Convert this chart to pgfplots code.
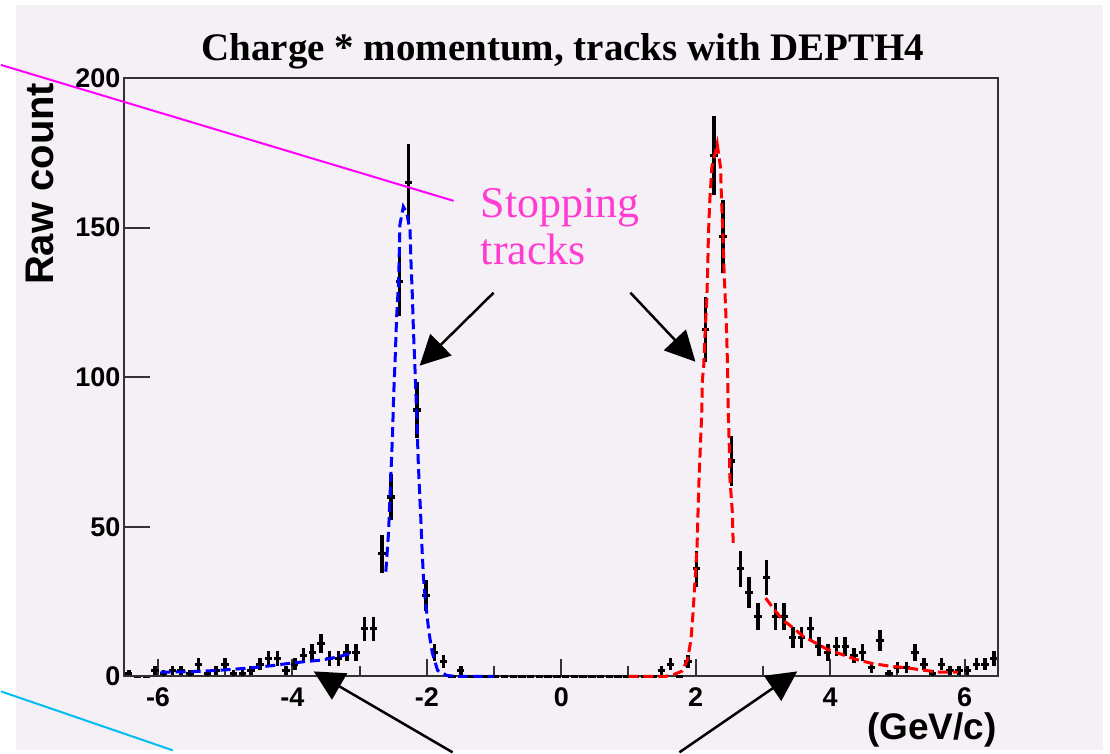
\documentclass[border=0pt]{standalone}
\usepackage{pgfplots}
\pgfplotsset{compat=1.18}
\usepackage{pgfplotstable}
\usepackage{fontspec}
\usetikzlibrary{arrows.meta}
\setmainfont{Liberation Serif}
\newfontfamily\helv{Liberation Sans}

\definecolor{bgpink}{RGB}{245,240,245}
\definecolor{annmag}{RGB}{255,0,255}
\definecolor{txtmag}{RGB}{255,60,210}
\definecolor{anncyan}{RGB}{0,190,240}
\definecolor{framegray}{RGB}{50,50,50}

% charge*momentum histogram: bin centre, raw count, statistical error
\pgfplotstableread{
x       y    ey
-6.435  1    1
-6.305  0    0
-6.175  0    0
-6.045  2    1.41
-5.915  1    1
-5.785  2    1.41
-5.655  2    1.41
-5.525  1    1
-5.395  4    2
-5.265  1    1
-5.135  2    1.41
-5.005  4    2
-4.875  1    1
-4.745  1    1
-4.615  2    1.41
-4.485  4    2
-4.355  6    2.45
-4.225  6    2.45
-4.095  2    1.41
-3.965  4    2
-3.835  7    2.65
-3.705  8    2.83
-3.575  11   3.32
-3.445  6    2.45
-3.315  6    2.45
-3.185  8    2.83
-3.055  8    2.83
-2.925  16   4
-2.795  16   4
-2.665  41   6.4
-2.535  60   7.75
-2.405  132  11.49
-2.275  165  12.85
-2.145  89   9.43
-2.015  27   5.2
-1.885  8    2.83
-1.755  5    2.24
-1.625  0    0
-1.495  2    1.41
-1.365  0    0
-1.235  0    0
-1.105  0    0
-0.975  0    0
-0.845  0    0
-0.715  0    0
-0.585  0    0
-0.455  0    0
-0.325  0    0
-0.195  0    0
-0.065  0    0
0.065   0    0
0.195   0    0
0.325   0    0
0.455   0    0
0.585   0    0
0.715   0    0
0.845   0    0
0.975   0    0
1.105   0    0
1.235   0    0
1.365   0    0
1.495   2    1.41
1.625   4    2
1.755   0    0
1.885   5    2.24
2.015   36   6
2.145   116  10.77
2.275   174  13.19
2.405   147  12.12
2.535   72   8.49
2.665   36   6
2.795   28   5.29
2.925   20   4.47
3.055   33   5.74
3.185   20   4.47
3.315   20   4.47
3.445   13   3.61
3.575   13   3.61
3.705   16   4
3.835   10   3.16
3.965   8    2.83
4.095   10   3.16
4.225   10   3.16
4.355   7    2.65
4.485   8    2.83
4.615   3    1.73
4.745   12   3.46
4.875   1    1
5.005   3    1.73
5.135   3    1.73
5.265   8    2.83
5.395   4    2
5.525   1    1
5.655   4    2
5.785   2    1.41
5.915   2    1.41
6.045   2    1.41
6.175   4    2
6.305   4    2
6.435   6    2.45
}\histdata

\begin{document}
\begin{tikzpicture}
\begin{scope}[x=0.5pt,y=-0.5pt]
  \useasboundingbox (0,0) rectangle (1110,751);
  \fill[bgpink] (15,5) rectangle (1103,751);
\end{scope}

% main axis: data, fits and x ticks
\begin{axis}[
  at={(61.75pt,-338.5pt)}, anchor=south west,
  scale only axis, width=437.25pt, height=299.5pt,
  xmin=-6.5, xmax=6.5, ymin=0, ymax=200,
  axis line style={framegray, line width=1pt},
  xtick={-6,-4,-2,0,2,4,6},
  xticklabels={-6,-4,-2,0,2,4,6},
  minor xtick={-5,-3,-1,1,3,5},
  ytick=\empty,
  xtick pos=bottom,
  tick align=inside,
  major tick length=8.5pt, minor tick length=5pt,
  every tick/.style={framegray, line width=1pt},
  xticklabel style={font=\helv\bfseries\fontsize{13.5}{13.5}\selectfont, anchor=north, inner sep=0pt, yshift=-5.5pt},
  clip=false,
]
\addplot[draw=none, mark=none,
  error bars/.cd, x dir=both, x fixed=0.055, y dir=both, y explicit,
  error bar style={draw=black, line width=1.75pt, solid}, error mark=none]
  table[x=x, y=y, y error=ey] {\histdata};

% fit to the negative-charge peak
\addplot[blue, line width=1.5pt, dash pattern=on 5pt off 2.5pt] coordinates {
(-2.61,35) (-2.57,48) (-2.55,59) (-2.53,70) (-2.51,81) (-2.495,93) (-2.47,107)
(-2.45,120) (-2.42,132) (-2.40,151) (-2.35,157) (-2.30,155) (-2.25,149)
(-2.235,138) (-2.215,127) (-2.20,116) (-2.18,105) (-2.16,93) (-2.145,84)
(-2.13,73) (-2.115,65) (-2.09,53) (-2.07,42) (-2.05,33) (-2.02,25)
(-1.97,15) (-1.92,8) (-1.84,2) (-1.70,0.3) (-1.55,0) (-1.0,0)
};
% low-momentum tail, negative side
\addplot[blue, line width=1.5pt, dash pattern=on 5pt off 2.5pt] coordinates {
(-5.96,1.4) (-5.66,1.5) (-5.39,1.7) (-5.12,2.0) (-4.87,2.4) (-4.60,2.9)
(-4.30,3.6) (-4.07,4.3) (-3.83,4.9) (-3.55,5.5) (-3.31,6.6) (-3.08,8.0)
};
% fit to the positive-charge peak
\addplot[red, line width=1.5pt, dash pattern=on 5pt off 2.5pt] coordinates {
(1.0,0) (1.55,0) (1.68,0.7) (1.80,1.8) (1.88,5.7) (1.93,12.3) (1.96,21)
(1.99,32) (2.02,43) (2.035,55) (2.05,66) (2.07,77) (2.09,88) (2.10,99)
(2.12,104) (2.14,115) (2.165,126) (2.18,137) (2.19,148) (2.21,159)
(2.24,170) (2.32,178) (2.37,170) (2.385,159) (2.405,148) (2.42,137)
(2.44,126) (2.46,115) (2.475,103) (2.485,88) (2.50,77) (2.51,66)
(2.545,55) (2.56,43)
};
% high-momentum tail, positive side
\addplot[red, line width=1.5pt, dash pattern=on 5pt off 2.5pt] coordinates {
(3.04,26.2) (3.17,22.3) (3.29,19) (3.45,16.2) (3.60,13.4) (3.80,11)
(3.96,9) (4.18,7.3) (4.38,5.7) (4.63,4.3) (4.90,3.4) (5.13,2.9)
(5.38,2.1) (5.64,1.4) (5.90,1.4)
};
\end{axis}

% y ticks and labels
\begin{axis}[
  at={(61.75pt,-338.5pt)}, anchor=south west,
  scale only axis, width=437.25pt, height=299.5pt,
  xmin=-6.5, xmax=6.5, ymin=0, ymax=200,
  axis line style={draw=none},
  xtick=\empty,
  ytick={0,50,100,150,200},
  yticklabels={0,50,100,150,200},
  ytick pos=left,
  tick align=inside,
  major tick length=13pt,
  every tick/.style={framegray, line width=1pt},
  yticklabel style={font=\helv\bfseries\fontsize{13.5}{13.5}\selectfont, anchor=east, xshift=1.5pt},
]
\end{axis}

\begin{scope}[x=0.5pt,y=-0.5pt]
  % title and axis titles
  \node[anchor=base, inner sep=0] at (562.5,61)
    {\fontsize{19.5}{19.5}\selectfont\bfseries Charge * momentum, tracks with DEPTH4};
  \node[anchor=base, rotate=90, inner sep=0] at (53,184)
    {\helv\bfseries\fontsize{20}{20}\selectfont Raw count};
  \node[anchor=base east, inner sep=0] at (997,740)
    {\helv\bfseries\fontsize{18.5}{18.5}\selectfont (GeV/c)};

  % annotation
  \draw[annmag, line width=1pt] (0,65) -- (453,201);
  \draw[anncyan, line width=1pt] (0,692) -- (172,751);
  \node[anchor=base west, inner sep=0, text=txtmag, align=left] at (480,218)
    {\fontsize{22}{23.5}\selectfont Stopping};
  \node[anchor=base west, inner sep=0, text=txtmag, align=left] at (480,265)
    {\fontsize{22}{23.5}\selectfont tracks};
  \begin{scope}[line width=1.25pt, -{Triangle[length=15pt, width=15pt]}]
    \draw (493,293) -- (419,366);
    \draw (630,293) -- (695,362);
    \draw (452,753) -- (313,672);
    \draw (679,753) -- (797,672);
  \end{scope}
\end{scope}
\end{tikzpicture}
\end{document}
